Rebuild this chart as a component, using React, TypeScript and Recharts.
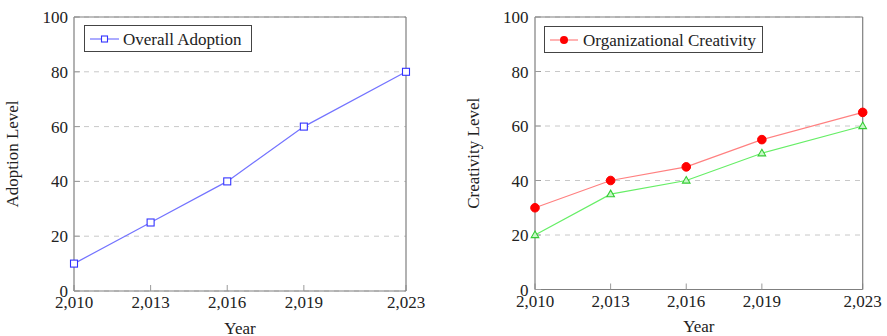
import React from 'react';
import { LineChart, Line, XAxis, YAxis, CartesianGrid, Legend } from 'recharts';

const years = [2010, 2013, 2016, 2019, 2023];
const yTicks = [0, 20, 40, 60, 80, 100];
const adoption = [10, 25, 40, 60, 80];
const creativity = [30, 40, 45, 55, 65];
const secondaryCreativity = [20, 35, 40, 50, 60];

const adoptionData = years.map((year, i) => ({ year, adoption: adoption[i] }));
const creativityData = years.map((year, i) => ({
  year,
  creativity: creativity[i],
  secondary: secondaryCreativity[i],
}));

const FONT = '"Liberation Serif", "Times New Roman", serif';
const TEXT = '#222';
const FRAME = '#7f7f7f';
const TICK = '#9a9a9a';

const fmt = (v: number) => v.toLocaleString('en-US');

const SquareDot = (props: any) => {
  const { cx, cy, index } = props;
  if (cx == null || cy == null) return null;
  return (
    <rect key={`sq-${index}`} x={cx - 3.5} y={cy - 3.5} width={7} height={7} fill="#fff" stroke="#3333ff" strokeWidth={1.1} />
  );
};

const CircleDot = (props: any) => {
  const { cx, cy, index } = props;
  if (cx == null || cy == null) return null;
  return <circle key={`ci-${index}`} cx={cx} cy={cy} r={4.3} fill="#ff0000" stroke="#ff0000" />;
};

const TriangleDot = (props: any) => {
  const { cx, cy, index } = props;
  if (cx == null || cy == null) return null;
  const d = `M${cx},${cy - 4} L${cx + 3.8},${cy + 2.6} L${cx - 3.8},${cy + 2.6} Z`;
  return <path key={`tr-${index}`} d={d} fill="#c8f7c8" stroke="#33cc33" strokeWidth={1.1} />;
};

const makeLegend = (w: number, h: number, lineW: number, gap: number, marker: 'square' | 'circle', markerColor: string) =>
  (props: any) => {
    const items = (props.payload || []).filter((p: any) => p.type !== 'none');
    return (
      <div
        style={{
          width: w,
          height: h,
          boxSizing: 'border-box',
          border: '1px solid #444',
          background: '#fff',
          display: 'flex',
          alignItems: 'center',
          paddingLeft: 5,
          fontFamily: FONT,
          fontSize: 17,
          color: TEXT,
          whiteSpace: 'nowrap',
        }}
      >
        {items.map((item: any) => (
          <div key={item.value} style={{ display: 'flex', alignItems: 'center' }}>
            <svg width={lineW} height={12} style={{ display: 'block' }}>
              <line x1={0} y1={6} x2={lineW} y2={6} stroke={item.color} strokeWidth={1.2} />
              {marker === 'square' ? (
                <rect x={lineW / 2 - 3} y={3} width={6} height={6} fill="#fff" stroke={markerColor} strokeWidth={1.1} />
              ) : (
                <circle cx={lineW / 2} cy={6} r={4} fill={markerColor} />
              )}
            </svg>
            <span style={{ marginLeft: gap, lineHeight: '17px', position: 'relative', top: 1 }}>{item.value}</span>
          </div>
        ))}
      </div>
    );
  };

const tickStyle = { fontSize: 17, fill: TEXT, fontFamily: FONT, style: { fontFamily: FONT } };

export default function App() {
  return (
    <div style={{ position: 'absolute', left: 0, top: 0, width: 887, height: 336, background: '#fff', fontFamily: FONT }}>
      <style>{`.recharts-wrapper text, .recharts-text { font-family: ${FONT} !important; }`}</style>
      <div style={{ position: 'absolute', left: 0, top: 0 }}>
        <LineChart width={440} height={336} data={adoptionData} margin={{ top: 0, right: 0, bottom: 0, left: 0 }}>
          <CartesianGrid vertical={false} stroke="#c8c8c8" strokeDasharray="5 5" />
          <XAxis
            dataKey="year"
            type="number"
            domain={[2010, 2023]}
            ticks={years}
            tickFormatter={fmt}
            height={45}
            tickSize={-6}
            tickMargin={11}
            axisLine={{ stroke: FRAME, strokeWidth: 1.2 }}
            tickLine={{ stroke: TICK }}
            tick={tickStyle}
            label={{ value: 'Year', position: 'insideBottom', offset: 2, fill: TEXT, fontSize: 17, fontFamily: FONT }}
          />
          <XAxis
            xAxisId="top"
            dataKey="year"
            type="number"
            orientation="top"
            domain={[2010, 2023]}
            ticks={years}
            height={17}
            tickSize={-6}
            tick={false}
            axisLine={{ stroke: FRAME, strokeWidth: 1.2 }}
            tickLine={{ stroke: TICK }}
          />
          <YAxis
            type="number"
            domain={[0, 100]}
            ticks={yTicks}
            width={74}
            tickSize={-6}
            tickMargin={12}
            axisLine={{ stroke: FRAME, strokeWidth: 1.2 }}
            tickLine={{ stroke: TICK }}
            tick={tickStyle}
            label={{ value: 'Adoption Level', angle: -90, position: 'insideLeft', offset: 12, fill: TEXT, fontSize: 17, fontFamily: FONT, style: { textAnchor: 'middle' } }}
          />
          <YAxis
            yAxisId="right"
            orientation="right"
            type="number"
            domain={[0, 100]}
            ticks={yTicks}
            width={34}
            tickSize={-6}
            tick={false}
            axisLine={{ stroke: FRAME, strokeWidth: 1.2 }}
            tickLine={{ stroke: TICK }}
          />
          <Legend
            layout="vertical"
            align="center"
            verticalAlign="middle"
            wrapperStyle={{ left: 84, top: 25 }}
            content={makeLegend(168, 27, 29, 4, 'square', '#3333ff')}
          />
          <Line
            type="linear"
            dataKey="adoption"
            name="Overall Adoption"
            stroke="#7373ff"
            strokeWidth={1.2}
            dot={SquareDot}
            activeDot={false}
            isAnimationActive={false}
          />
        </LineChart>
      </div>
      <div style={{ position: 'absolute', left: 460, top: 0 }}>
        <LineChart width={427} height={336} data={creativityData} margin={{ top: 0, right: 0, bottom: 0, left: 0 }}>
          <CartesianGrid vertical={false} stroke="#c8c8c8" strokeDasharray="5 5" />
          <XAxis
            dataKey="year"
            type="number"
            domain={[2010, 2023]}
            ticks={years}
            tickFormatter={fmt}
            height={46.5}
            tickSize={-6}
            tickMargin={11}
            axisLine={{ stroke: FRAME, strokeWidth: 1.2 }}
            tickLine={{ stroke: TICK }}
            tick={tickStyle}
            label={{ value: 'Year', position: 'insideBottom', offset: 4, fill: TEXT, fontSize: 17, fontFamily: FONT }}
          />
          <XAxis
            xAxisId="top"
            dataKey="year"
            type="number"
            orientation="top"
            domain={[2010, 2023]}
            ticks={years}
            height={17}
            tickSize={-6}
            tick={false}
            axisLine={{ stroke: FRAME, strokeWidth: 1.2 }}
            tickLine={{ stroke: TICK }}
          />
          <YAxis
            type="number"
            domain={[0, 100]}
            ticks={yTicks}
            width={75}
            tickSize={-6}
            tickMargin={12.5}
            axisLine={{ stroke: FRAME, strokeWidth: 1.2 }}
            tickLine={{ stroke: TICK }}
            tick={tickStyle}
            label={{ value: 'Creativity Level', angle: -90, position: 'insideLeft', offset: 13, fill: TEXT, fontSize: 17, fontFamily: FONT, style: { textAnchor: 'middle' } }}
          />
          <YAxis
            yAxisId="right"
            orientation="right"
            type="number"
            domain={[0, 100]}
            ticks={yTicks}
            width={24.3}
            tickSize={-6}
            tick={false}
            axisLine={{ stroke: FRAME, strokeWidth: 1.2 }}
            tickLine={{ stroke: TICK }}
          />
          <Legend
            layout="vertical"
            align="center"
            verticalAlign="middle"
            wrapperStyle={{ left: 84, top: 26 }}
            content={makeLegend(219, 27, 28, 5, 'circle', '#ff0000')}
          />
          <Line
            type="linear"
            dataKey="secondary"
            name="Secondary Creativity"
            stroke="#66ee66"
            strokeWidth={1.2}
            dot={TriangleDot}
            activeDot={false}
            legendType="none"
            isAnimationActive={false}
          />
          <Line
            type="linear"
            dataKey="creativity"
            name="Organizational Creativity"
            stroke="#ff8080"
            strokeWidth={1.2}
            dot={CircleDot}
            activeDot={false}
            isAnimationActive={false}
          />
        </LineChart>
      </div>
    </div>
  );
}
